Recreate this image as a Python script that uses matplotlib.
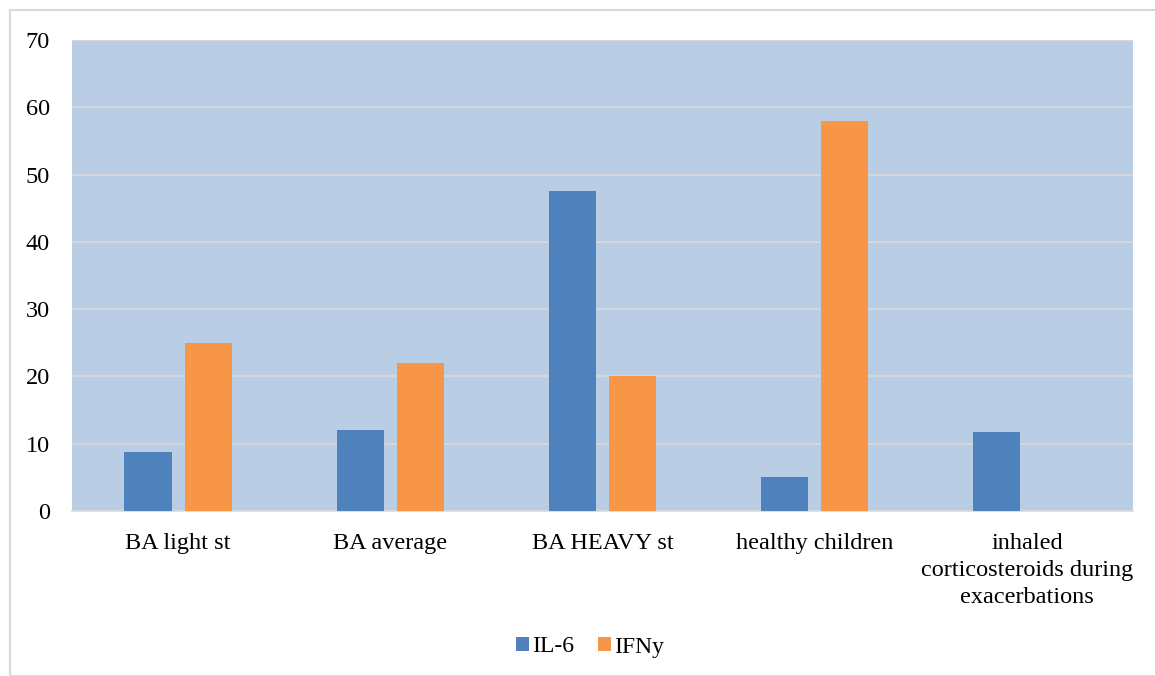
import matplotlib
matplotlib.use('Agg')
import matplotlib.pyplot as plt
import numpy as np
from matplotlib.patches import Rectangle

categories = ["BA light st", "BA average", "BA HEAVY st", "healthy children",
              "inhaled\ncorticosteroids during\nexacerbations"]
il6 = [8.8, 12, 47.5, 5.1, 11.7]
ifny = [25, 22, 20, 58, 0]

plt.rcParams['font.family'] = ['Liberation Serif', 'DejaVu Serif']

fig = plt.figure(figsize=(11.55, 6.76), dpi=100)
ax = fig.add_axes([72 / 1155, 1 - 511 / 676, (1133 - 72) / 1155, (511 - 40) / 676])

x = np.arange(len(categories))
w = 0.222
ax.bar(x - 0.142, il6, w, color='#4f81bd', label='IL-6', zorder=3)
ax.bar(x + 0.142, ifny, w, color='#f79646', label='IFNy', zorder=3)

ax.set_facecolor('#b9cde5')
ax.set_xlim(-0.5, len(categories) - 0.5)
ax.set_ylim(0, 70)
ax.set_yticks(range(0, 71, 10))
ax.yaxis.grid(True, color='#d9d9d9', linewidth=1.2, zorder=0)
ax.set_axisbelow(True)
for s in ['top', 'right', 'left']:
    ax.spines[s].set_visible(False)
ax.spines['bottom'].set_color('#d9d9d9')
ax.spines['bottom'].set_linewidth(1.2)
ax.tick_params(axis='both', length=0, labelsize=17.5, colors='black')
ax.tick_params(axis='y', pad=16)
ax.tick_params(axis='x', pad=16)
ax.set_xticks(x)
ax.set_xticklabels(categories, va='top', linespacing=1.38)

fig.legend(loc='center', bbox_to_anchor=(590 / 1155, 1 - 647 / 676), ncol=2,
           frameon=False, fontsize=17, handlelength=0.55, handleheight=0.55,
           handletextpad=0.15, columnspacing=1.0)

fig.patches.append(Rectangle((10 / 1155, 0.0), 1.0, 1 - 10 / 676,
                             transform=fig.transFigure, fill=False,
                             edgecolor='#d9d9d9', linewidth=1.5))

plt.savefig('out.png', dpi=100)
plt.close()
